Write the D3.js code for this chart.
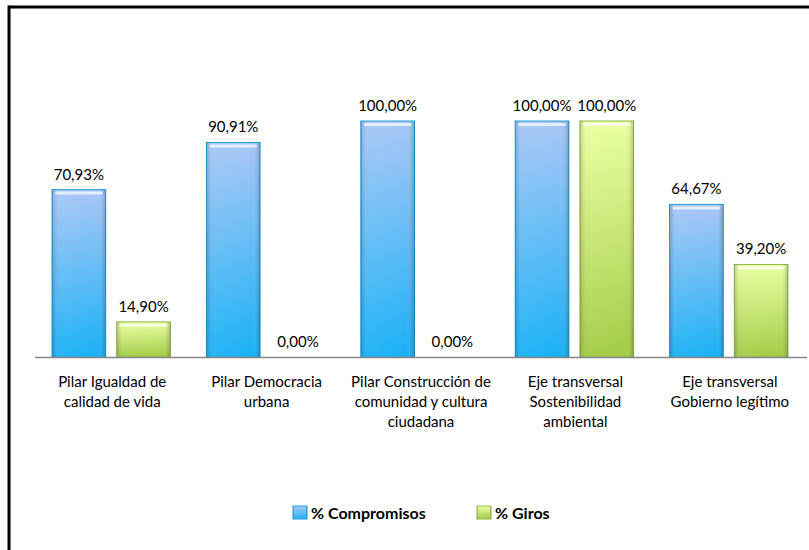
<!DOCTYPE html>
<html>
<head>
<meta charset="utf-8">
<script src="https://d3js.org/d3.v7.min.js"></script>
<style>
  body { margin: 0; background: #fff; }
  svg { display: block; }
  text { font-family: Lato, "Open Sans", sans-serif; fill: #000; }
</style>
</head>
<body>
<svg width="809" height="550"></svg>
<script>
// data
var categories = [
  ['Pilar Igualdad de', 'calidad de vida'],
  ['Pilar Democracia', 'urbana'],
  ['Pilar Construcción de', 'comunidad y cultura', 'ciudadana'],
  ['Eje transversal', 'Sostenibilidad', 'ambiental'],
  ['Eje transversal', 'Gobierno legítimo']
];
var compromisos = [70.93, 90.91, 100.00, 100.00, 64.67];
var giros = [14.90, 0.00, 0.00, 100.00, 39.20];
var seriesNames = ['% Compromisos', '% Giros'];

var fmt = function(v) { return v.toFixed(2).replace('.', ',') + '%'; };

var svg = d3.select('svg');
var defs = svg.append('defs');

// gradients, excel 2007 look
function barGrad(id, top, bottom) {
  var g = defs.append('linearGradient').attr('id', id)
    .attr('x1', 0).attr('y1', 0).attr('x2', 0).attr('y2', 1);
  g.append('stop').attr('offset', '0%').attr('stop-color', top);
  g.append('stop').attr('offset', '100%').attr('stop-color', bottom);
}
barGrad('gBlue', '#a8c6f6', '#19b1f6');
barGrad('gGreen', '#eaffa0', '#a2cb45');

var side = defs.append('linearGradient').attr('id', 'gSide')
  .attr('x1', 0).attr('y1', 0).attr('x2', 1).attr('y2', 0);
side.append('stop').attr('offset', '0%').attr('stop-color', '#000').attr('stop-opacity', 0.18);
side.append('stop').attr('offset', '12%').attr('stop-color', '#fff').attr('stop-opacity', 0.05);
side.append('stop').attr('offset', '85%').attr('stop-color', '#fff').attr('stop-opacity', 0);
side.append('stop').attr('offset', '100%').attr('stop-color', '#000').attr('stop-opacity', 0.22);

// frame (only top and left are visible)
svg.append('line').attr('x1', 9).attr('x2', 809).attr('y1', 7).attr('y2', 7)
  .attr('stroke', '#000').attr('stroke-width', 3);
svg.append('line').attr('x1', 9).attr('x2', 9).attr('y1', 5.5).attr('y2', 550)
  .attr('stroke', '#000').attr('stroke-width', 3);

var x0 = d3.scaleBand().domain(d3.range(categories.length)).range([35, 807]);
var x1 = d3.scaleBand().domain([0, 1]).range([17, x0.bandwidth() - 19]).paddingInner(0.17);
var y = d3.scaleLinear().domain([0, 100]).range([357, 121]);

var rows = [];
categories.forEach(function(c, i) {
  rows.push({ i: i, s: 0, v: compromisos[i] });
  rows.push({ i: i, s: 1, v: giros[i] });
});

var g = svg.append('g');
var bars = g.selectAll('g.bar').data(rows.filter(function(d) { return d.v > 0; }))
  .enter().append('g').attr('class', 'bar')
  .attr('transform', function(d) { return 'translate(' + (x0(d.i) + x1(d.s)) + ',0)'; });

bars.append('rect')
  .attr('y', function(d) { return y(d.v); })
  .attr('width', x1.bandwidth())
  .attr('height', function(d) { return y(0) - y(d.v); })
  .attr('fill', function(d) { return d.s === 0 ? 'url(#gBlue)' : 'url(#gGreen)'; })
  .attr('stroke', function(d) { return d.s === 0 ? '#1e9fd8' : '#94b84a'; })
  .attr('stroke-width', 1);
bars.append('rect')
  .attr('y', function(d) { return y(d.v); })
  .attr('width', x1.bandwidth())
  .attr('height', function(d) { return y(0) - y(d.v); })
  .attr('fill', 'url(#gSide)');
// top bevel highlight
bars.append('rect')
  .attr('x', 3)
  .attr('y', function(d) { return y(d.v) + 2; })
  .attr('width', x1.bandwidth() - 6)
  .attr('height', 3)
  .attr('rx', 1.5)
  .attr('fill', '#fff').attr('opacity', 0.7);

// value labels
g.selectAll('text.val').data(rows).enter().append('text')
  .attr('class', 'val')
  .attr('x', function(d) { return x0(d.i) + x1(d.s) + x1.bandwidth() / 2; })
  .attr('y', function(d) { return y(d.v) - 10; })
  .attr('text-anchor', 'middle')
  .style('font-size', '15px')
  .text(function(d) { return fmt(d.v); });

// baseline
svg.append('line').attr('x1', 35).attr('x2', 807).attr('y1', y(0) + 0.5).attr('y2', y(0) + 0.5)
  .attr('stroke', '#868686').attr('stroke-width', 1.5);

// category labels
var cl = svg.selectAll('text.cat').data(categories).enter().append('text')
  .attr('class', 'cat')
  .attr('text-anchor', 'middle')
  .style('font-size', '15px');
cl.selectAll('tspan').data(function(d, i) { return d.map(function(t) { return { t: t, i: i }; }); })
  .enter().append('tspan')
  .attr('x', function(d) { return x0(d.i) + x0.bandwidth() / 2; })
  .attr('y', function(d, j) { return 387 + j * 20; })
  .text(function(d) { return d.t; });

// legend
var legX = [293, 477];
var lg = svg.selectAll('g.leg').data(seriesNames).enter().append('g')
  .attr('transform', function(d, i) { return 'translate(' + legX[i] + ',506)'; });
lg.append('rect').attr('width', 14).attr('height', 13)
  .attr('fill', function(d, i) { return i === 0 ? 'url(#gBlue)' : 'url(#gGreen)'; })
  .attr('stroke', function(d, i) { return i === 0 ? '#1e9fd8' : '#94b84a'; });
lg.append('rect').attr('width', 14).attr('height', 13).attr('fill', 'url(#gSide)');
lg.append('text').attr('x', 18).attr('y', 12.5)
  .style('font-size', '16px').style('font-weight', 'bold')
  .text(function(d) { return d; });
</script>
</body>
</html>
